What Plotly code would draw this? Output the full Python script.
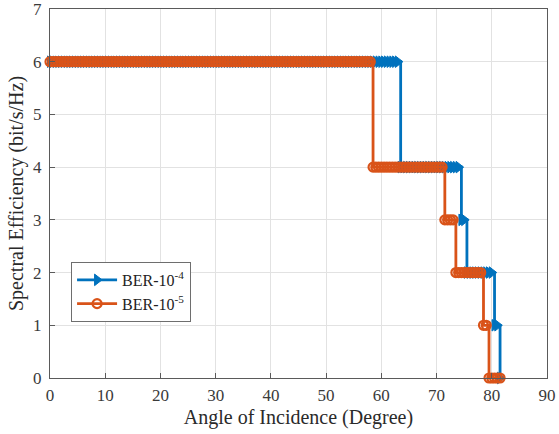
import plotly.graph_objects as go

# Angle grid (degrees) and spectral-efficiency levels
angles_ber4 = [i * 0.5 for i in range(164)]  # 0 .. 81.5
se_ber4 = [6] * 127 + [4] * 22 + [3] * 2 + [2] * 10 + [1] * 2 + [0] * 1

angles_ber5 = [i * 0.5 for i in range(164)]  # 0 .. 81.5
se_ber5 = [6] * 117 + [4] * 26 + [3] * 4 + [2] * 10 + [1] * 2 + [0] * 5

x_ticks = [0, 10, 20, 30, 40, 50, 60, 70, 80, 90]
y_ticks = [0, 1, 2, 3, 4, 5, 6, 7]

BLUE = "#0072BD"
ORANGE = "#D95319"
FONT = "Liberation Serif, Times New Roman, serif"

fig = go.Figure()
fig.add_trace(go.Scatter(
    x=angles_ber4, y=se_ber4, mode="lines+markers", name="BER-10<sup>-4</sup>",
    line=dict(color=BLUE, width=2.8, shape="hv"),
    marker=dict(symbol="triangle-right", size=10, color=BLUE,
                line=dict(color=BLUE, width=1)),
    cliponaxis=False,
))
fig.add_trace(go.Scatter(
    x=angles_ber5, y=se_ber5, mode="lines+markers", name="BER-10<sup>-5</sup>",
    line=dict(color=ORANGE, width=2.8, shape="hv"),
    marker=dict(symbol="circle-open", size=9, color=ORANGE,
                line=dict(color=ORANGE, width=2.2)),
    cliponaxis=False,
))

axis_common = dict(
    showgrid=True, gridcolor="#E2E2E2", gridwidth=1,
    showline=True, linecolor="#5A5A5A", linewidth=1.2, mirror=True,
    ticks="inside", ticklen=5, tickcolor="#5A5A5A",
    zeroline=False, automargin=False, ticklabeloverflow="allow",
    tickfont=dict(family=FONT, size=17, color="#3A3A3A"),
)

fig.update_layout(
    width=559, height=434,
    margin=dict(l=50, r=12, t=9, b=56),
    paper_bgcolor="white", plot_bgcolor="white",
    font=dict(family=FONT, size=17, color="#222222"),
    xaxis=dict(range=[0, 90], tickvals=x_ticks, ticklabelstandoff=1,
               title=dict(text="Angle of Incidence (Degree)", standoff=6,
                          font=dict(family=FONT, size=20, color="#2A2A2A")),
               **axis_common),
    yaxis=dict(range=[0, 7], tickvals=y_ticks, ticklabelstandoff=4,
               title=dict(text="Spectral Efficiency (bit/s/Hz)", standoff=4,
                          font=dict(family=FONT, size=20, color="#2A2A2A")),
               **axis_common),
    legend=dict(x=0.042, y=0.315, xanchor="left", yanchor="top",
                bgcolor="white", bordercolor="#6E6E6E", borderwidth=1.2,
                font=dict(family=FONT, size=16, color="#222222"),
                tracegroupgap=0, itemwidth=40),
    showlegend=True,
)

fig.write_html("out.html",
               config={"displayModeBar": False},
               post_script="document.body.style.margin='0';document.body.style.overflow='hidden';")
